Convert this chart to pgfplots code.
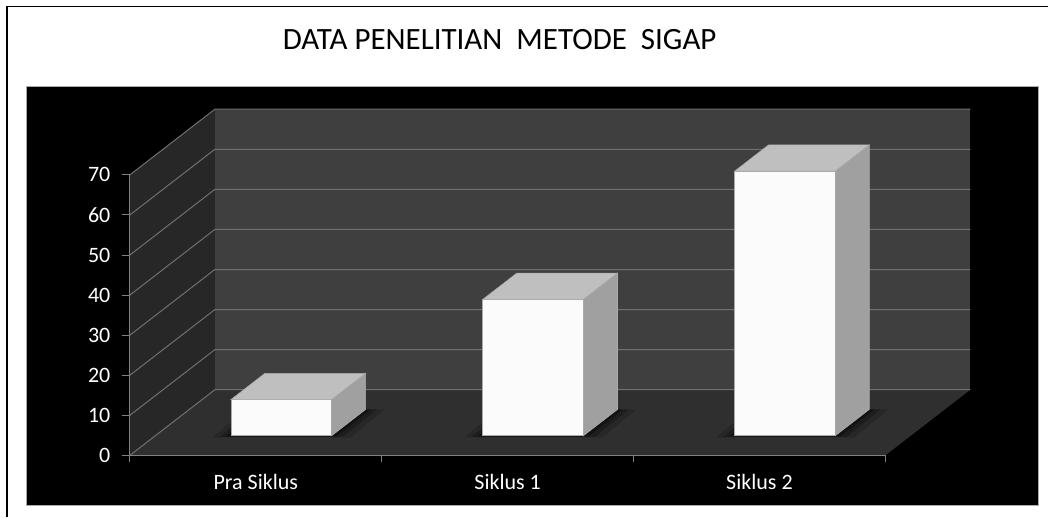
\documentclass[border=0pt]{standalone}
\usepackage{pgfplots}
\pgfplotsset{compat=1.18}
\usepackage{fontspec}
\setmainfont{Carlito}
\definecolor{backwall}{RGB}{63,63,63}
\definecolor{leftwall}{RGB}{39,39,39}
\definecolor{floorc}{RGB}{47,47,47}
\definecolor{gridc}{RGB}{112,112,112}
\definecolor{axisc}{RGB}{128,128,128}
\definecolor{barfront}{RGB}{251,251,251}
\definecolor{bartop}{RGB}{191,191,191}
\definecolor{barside}{RGB}{160,160,160}
\definecolor{baredge}{RGB}{170,170,170}
\begin{document}
\begin{tikzpicture}
\begin{axis}[
  scale only axis, width=756pt, height=280.7pt,
  xmin=-0.5, xmax=2.5, ymin=0, ymax=70,
  clip=false, axis on top,
  axis x line*=bottom, axis y line*=left,
  axis line style={axisc, line width=1pt},
  xtick={0,1,2}, xticklabels={Pra Siklus, Siklus 1, Siklus 2},
  minor xtick={-0.5,0.5,1.5,2.5},
  ytick={0,10,20,30,40,50,60,70},
  tick align=outside, major tick length=8pt, minor tick length=7pt,
  tick style={axisc, line width=1pt},
  major x tick style={draw=none},
  ticklabel style={font=\fontsize{22}{26}\selectfont, text=white},
  yticklabel style={xshift=-8pt},
  xticklabel style={yshift=-7pt},
  /pgf/number format/assume math mode=true,
  unbounded coords=jump,
  title={DATA PENELITIAN\ \ METODE\ \ SIGAP},
  title style={at={(0.4894,1.4596)}, anchor=center, font=\fontsize{31}{37}\selectfont, text=black},
]
% page background and outer frame
\addplot[fill=white, draw=none] coordinates {(-1.01587,-15.287) (3.14683,-15.287) (3.14683,113.64) (-1.01587,113.64)} -- cycle;
\addplot[black, line width=1.5pt] coordinates {(-0.9881,-15.287) (-0.9881,112.02) (3.14683,112.02)};
% black chart area
\addplot[fill=black, draw=baredge, line width=0.8pt] coordinates {(-0.9127,-12.544) (3.1071,-12.544) (3.1071,92.195) (-0.9127,92.195)} -- cycle;
% walls and floor
\addplot[fill=leftwall, draw=none] coordinates {(-0.5,0) (-0.5,70) (-0.1627,86.38) (-0.1627,16.38)} -- cycle;
\addplot[fill=backwall, draw=none] coordinates {(-0.1627,16.38) (2.8373,16.38) (2.8373,86.38) (-0.1627,86.38)} -- cycle;
\addplot[fill=floorc, draw=none] coordinates {(-0.5,0) (2.5,0) (2.8373,16.38) (-0.1627,16.38)} -- cycle;
% gridlines
\addplot[gridc, line width=1pt] coordinates {
 (-0.5,0) (-0.1627,16.38) (2.8373,16.38) (nan,nan)
 (-0.5,10) (-0.1627,26.38) (2.8373,26.38) (nan,nan)
 (-0.5,20) (-0.1627,36.38) (2.8373,36.38) (nan,nan)
 (-0.5,30) (-0.1627,46.38) (2.8373,46.38) (nan,nan)
 (-0.5,40) (-0.1627,56.38) (2.8373,56.38) (nan,nan)
 (-0.5,50) (-0.1627,66.38) (2.8373,66.38) (nan,nan)
 (-0.5,60) (-0.1627,76.38) (2.8373,76.38) (nan,nan)
 (-0.5,70) (-0.1627,86.38) (2.8373,86.38)};
% soft shadows
\addplot[fill=black, fill opacity=0.15, draw=none] coordinates {(-0.1738,4.414) (0.3762,4.414) (0.5111,11.466) (-0.0389,11.466)} -- cycle;
\addplot[fill=black, fill opacity=0.15, draw=none] coordinates {(0.8262,4.414) (1.3762,4.414) (1.5111,11.466) (0.9611,11.466)} -- cycle;
\addplot[fill=black, fill opacity=0.15, draw=none] coordinates {(1.8262,4.414) (2.3762,4.414) (2.5111,11.466) (1.9611,11.466)} -- cycle;
\addplot[fill=black, fill opacity=0.25, draw=none] coordinates {(-0.1438,4.614) (0.3462,4.614) (0.4811,11.466) (-0.0089,11.466)} -- cycle;
\addplot[fill=black, fill opacity=0.25, draw=none] coordinates {(0.8562,4.614) (1.3462,4.614) (1.4811,11.466) (0.9911,11.466)} -- cycle;
\addplot[fill=black, fill opacity=0.25, draw=none] coordinates {(1.8562,4.614) (2.3462,4.614) (2.4811,11.466) (1.9911,11.466)} -- cycle;
\addplot[fill=black, fill opacity=0.35, draw=none] coordinates {(-0.1188,4.764) (0.3212,4.764) (0.4561,11.466) (0.0161,11.466)} -- cycle;
\addplot[fill=black, fill opacity=0.35, draw=none] coordinates {(0.8812,4.764) (1.3212,4.764) (1.4561,11.466) (1.0161,11.466)} -- cycle;
\addplot[fill=black, fill opacity=0.35, draw=none] coordinates {(1.8812,4.764) (2.3212,4.764) (2.4561,11.466) (2.0161,11.466)} -- cycle;
% bar: Pra Siklus = 9
\addplot[fill=barfront, draw=baredge, line width=0.6pt] coordinates {(-0.0988,4.914) (0.3012,4.914) (0.3012,13.914) (-0.0988,13.914)} -- cycle;
\addplot[fill=bartop, draw=baredge, line width=0.6pt] coordinates {(-0.0988,13.914) (0.3012,13.914) (0.4361,20.466) (0.0361,20.466)} -- cycle;
\addplot[fill=barside, draw=baredge, line width=0.6pt] coordinates {(0.3012,4.914) (0.4361,11.466) (0.4361,20.466) (0.3012,13.914)} -- cycle;
% bar: Siklus 1 = 34
\addplot[fill=barfront, draw=baredge, line width=0.6pt] coordinates {(0.9012,4.914) (1.3012,4.914) (1.3012,38.914) (0.9012,38.914)} -- cycle;
\addplot[fill=bartop, draw=baredge, line width=0.6pt] coordinates {(0.9012,38.914) (1.3012,38.914) (1.4361,45.466) (1.0361,45.466)} -- cycle;
\addplot[fill=barside, draw=baredge, line width=0.6pt] coordinates {(1.3012,4.914) (1.4361,11.466) (1.4361,45.466) (1.3012,38.914)} -- cycle;
% bar: Siklus 2 = 66
\addplot[fill=barfront, draw=baredge, line width=0.6pt] coordinates {(1.9012,4.914) (2.3012,4.914) (2.3012,70.914) (1.9012,70.914)} -- cycle;
\addplot[fill=bartop, draw=baredge, line width=0.6pt] coordinates {(1.9012,70.914) (2.3012,70.914) (2.4361,77.466) (2.0361,77.466)} -- cycle;
\addplot[fill=barside, draw=baredge, line width=0.6pt] coordinates {(2.3012,4.914) (2.4361,11.466) (2.4361,77.466) (2.3012,70.914)} -- cycle;
\end{axis}
\end{tikzpicture}
\end{document}
